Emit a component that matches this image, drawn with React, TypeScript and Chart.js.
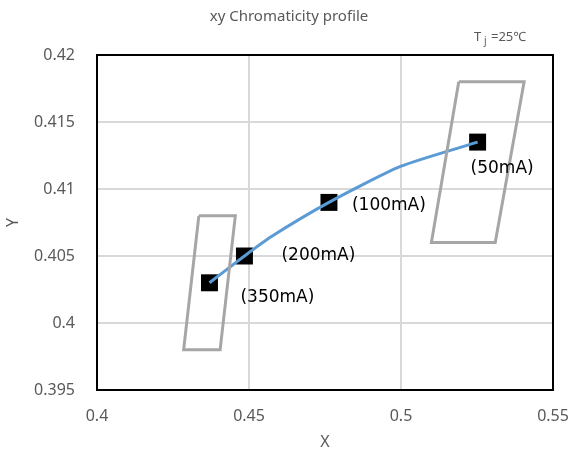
import React, { useEffect, useRef } from "react";
import { Chart, registerables } from "chart.js";

Chart.register(...registerables);

const markerX = [0.5252, 0.4763, 0.4485, 0.437];
const markerY = [0.4135, 0.409, 0.405, 0.403];
const markerLabels = ["(50mA)", "(100mA)", "(200mA)", "(350mA)"];

const curveX = [0.437, 0.4485, 0.457, 0.4763, 0.5, 0.5252];
const curveY = [0.403, 0.405, 0.4064, 0.409, 0.4117, 0.4135];

const leftBoxX = [0.4335, 0.4455, 0.4405, 0.4285, 0.4335];
const leftBoxY = [0.408, 0.408, 0.398, 0.398, 0.408];
const rightBoxX = [0.519, 0.5405, 0.531, 0.51, 0.519];
const rightBoxY = [0.418, 0.418, 0.406, 0.406, 0.418];

const titleText = "xy Chromaticity profile";
const xTitle = "X";
const yTitle = "Y";
const xMin = 0.4, xMax = 0.55, xStep = 0.05;
const yMin = 0.395, yMax = 0.42, yStep = 0.005;

// label offsets relative to marker (styling)
const labelOffsets = [
  [-7, 26],
  [23, 3],
  [37, 0],
  [31, 15],
];

const zip = (xs: number[], ys: number[]) => xs.map((x, i) => ({ x, y: ys[i] }));
const fmt = (v: number) => String(Number(Number(v).toFixed(4)));

const GRAY_TEXT = "#595959";

const overlayPlugin = {
  id: "overlay",
  afterDatasetsDraw(chart: any) {
    const ctx = chart.ctx;
    const { left, right, top, bottom } = chart.chartArea;
    ctx.save();
    ctx.strokeStyle = "#000000";
    ctx.lineWidth = 2;
    ctx.strokeRect(left, top, right - left, bottom - top);
    const meta = chart.getDatasetMeta(3);
    ctx.fillStyle = "#000000";
    ctx.font = "17px 'DejaVu Sans'";
    ctx.textAlign = "left";
    ctx.textBaseline = "middle";
    meta.data.forEach((el: any, i: number) => {
      const [dx, dy] = labelOffsets[i];
      ctx.fillText(markerLabels[i], el.x + dx, el.y + dy);
    });
    ctx.fillStyle = GRAY_TEXT;
    ctx.font = "15px 'Noto Sans'";
    ctx.textAlign = "center";
    ctx.fillText(titleText, 289, 17);
    ctx.textAlign = "left";
    ctx.textBaseline = "alphabetic";
    ctx.font = "13px 'Noto Sans'";
    ctx.fillText("T", 474, 41);
    ctx.font = "10px 'Noto Sans'";
    ctx.fillText("j", 484, 44);
    ctx.font = "13px 'Noto Sans'";
    ctx.fillText("=25℃", 491, 41);
    ctx.restore();
  },
};

export default function App() {
  const ref = useRef<HTMLCanvasElement | null>(null);
  useEffect(() => {
    if (!ref.current) return;
    const chart = new Chart(ref.current, {
      type: "scatter",
      data: {
        datasets: [
          {
            data: zip(leftBoxX, leftBoxY),
            showLine: true,
            borderColor: "#a6a6a6",
            borderWidth: 3,
            pointRadius: 0,
            tension: 0,
          },
          {
            data: zip(rightBoxX, rightBoxY),
            showLine: true,
            borderColor: "#a6a6a6",
            borderWidth: 3,
            pointRadius: 0,
            tension: 0,
          },
          {
            data: zip(curveX, curveY),
            showLine: true,
            borderColor: "#5b9bd5",
            borderWidth: 3,
            pointRadius: 0,
            tension: 0.2,
          },
          {
            data: zip(markerX, markerY),
            showLine: false,
            pointStyle: "rect",
            pointRadius: 12,
            backgroundColor: "#000000",
            borderColor: "#000000",
            borderWidth: 0,
          },
        ],
      },
      options: {
        responsive: false,
        animation: false,
        layout: { padding: { top: 55, right: 0, left: 0, bottom: 0 } },
        plugins: {
          legend: { display: false },
          tooltip: { enabled: false },
          title: { display: false },
        },
        scales: {
          x: {
            type: "linear",
            min: xMin,
            max: xMax,
            afterFit: (s: any) => {
              s.height = 66;
              s.paddingRight = 16;
              s.paddingLeft = 0;
            },
            afterBuildTicks: (s: any) => {
              const t = [];
              for (let v = xMin; v <= xMax + 1e-9; v += xStep) t.push({ value: Number(v.toFixed(4)) });
              s.ticks = t;
            },
            grid: { color: "#d9d9d9", lineWidth: 2, drawTicks: false },
            border: { display: false },
            ticks: {
              padding: 17,
              color: GRAY_TEXT,
              font: { family: "'Noto Sans'", size: 16 },
              callback: (v: any) => fmt(v),
            },
            title: {
              display: true,
              text: xTitle,
              color: GRAY_TEXT,
              font: { family: "'Noto Sans'", size: 16 },
            },
          },
          y: {
            type: "linear",
            min: yMin,
            max: yMax,
            afterFit: (s: any) => {
              s.width = 97;
            },
            afterBuildTicks: (s: any) => {
              const t = [];
              for (let v = yMin; v <= yMax + 1e-9; v += yStep) t.push({ value: Number(v.toFixed(4)) });
              s.ticks = t;
            },
            grid: { color: "#d9d9d9", lineWidth: 2, drawTicks: false },
            border: { display: false },
            ticks: {
              padding: 22,
              color: GRAY_TEXT,
              font: { family: "'Noto Sans'", size: 16 },
              callback: (v: any) => fmt(v),
            },
            title: {
              display: true,
              text: yTitle,
              color: GRAY_TEXT,
              font: { family: "'Noto Sans'", size: 16 },
            },
          },
        },
      },
      plugins: [overlayPlugin],
    } as any);
    return () => chart.destroy();
  }, []);
  return (
    <div style={{ position: "absolute", left: 0, top: 0, width: 569, height: 456, background: "#fff" }}>
      <canvas ref={ref} width={569} height={456} style={{ display: "block" }} />
    </div>
  );
}
